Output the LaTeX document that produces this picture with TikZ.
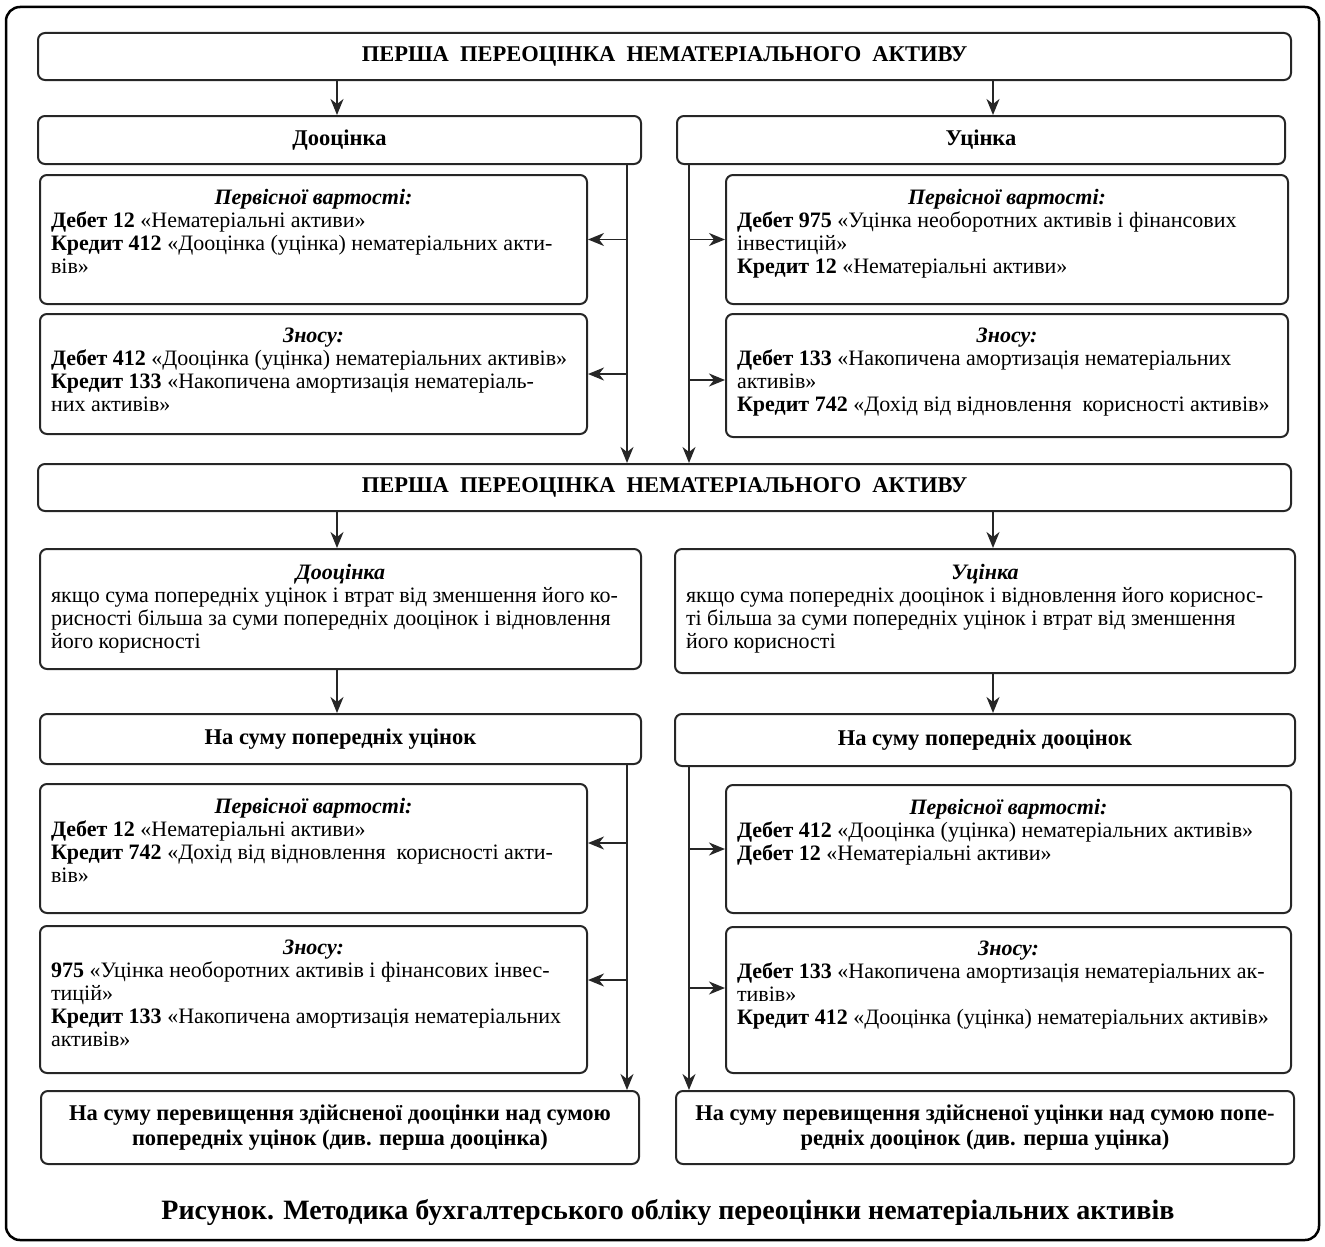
\documentclass[tikz,border=0pt]{standalone}
\usepackage{fontspec}
\setmainfont{Liberation Serif}
\usetikzlibrary{arrows.meta,calc}
\tikzset{
  box/.style={draw=black!85, line width=2pt, rounded corners=7pt, inner xsep=11pt, inner ysep=0pt, anchor=north west},
  arr/.style={draw=black!85, line width=1.7pt, -{Stealth[length=16pt,width=13pt,inset=5pt]}},
}
\newcommand\hdr[1]{\makebox[\linewidth]{\bfseries\itshape #1}\par}
\newcommand\rowline[1]{\mbox{#1}\par}
\newcommand\tbox[7]{%
  \pgfmathsetmacro\bw{#4-#2-22}%
  \pgfmathsetmacro\bh{#5-#3}%
  \node[box] (#1) at (#2,#3) {\parbox[c][\bh pt][t]{\bw pt}{\fontsize{22}{23}\selectfont\parindent=0pt\parskip=0pt\vspace*{#6pt}#7}};
}
\newcommand\cbox[6]{%
  \pgfmathsetmacro\bw{#4-#2}%
  \pgfmathsetmacro\bh{#5-#3}%
  \node[box, minimum width=\bw pt, minimum height=\bh pt, align=center, font=\fontsize{22.5}{25}\selectfont\bfseries] (#1) at (#2,#3) {#6};
}
\begin{document}
\begin{tikzpicture}[x=1pt,y=-1pt]
\useasboundingbox (0,0) rectangle (1325,1247);
\draw[line width=2.5pt, rounded corners=14pt] (6,7) rectangle (1319,1240);

\cbox{top1}{37}{32}{1290}{79}{ПЕРША\ \ ПЕРЕОЦІНКА\ \ НЕМАТЕРІАЛЬНОГО\ \ АКТИВУ}
\cbox{dooc1}{37}{115}{640}{163}{Дооцінка}
\cbox{utsin1}{676}{115}{1284}{163}{Уцінка}

\tbox{L1a}{39}{174}{586}{303}{14}{\hdr{Первісної вартості:}
\rowline{\textbf{Дебет 12} «Нематеріальні активи»}
\rowline{\textbf{Кредит 412} «Дооцінка (уцінка) нематеріальних акти-}
\rowline{вів»}}
\tbox{L1b}{39}{313}{586}{433}{14}{\hdr{Зносу:}
\rowline{\textbf{Дебет 412} «Дооцінка (уцінка) нематеріальних активів»}
\rowline{\textbf{Кредит 133} «Накопичена амортизація нематеріаль-}
\rowline{них активів»}}
\tbox{R1a}{725}{174}{1287}{303}{14}{\hdr{Первісної вартості:}
\rowline{\textbf{Дебет 975} «Уцінка необоротних активів і фінансових}
\rowline{інвестицій»}
\rowline{\textbf{Кредит 12} «Нематеріальні активи»}}
\tbox{R1b}{725}{313}{1287}{436}{14}{\hdr{Зносу:}
\rowline{\textbf{Дебет 133} «Накопичена амортизація нематеріальних}
\rowline{активів»}
\rowline{\textbf{Кредит 742} «Дохід від відновлення\ \ корисності активів»}}

\cbox{top2}{37}{463}{1290}{510}{ПЕРША\ \ ПЕРЕОЦІНКА\ \ НЕМАТЕРІАЛЬНОГО\ \ АКТИВУ}

\tbox{dooc2}{39}{548}{640}{668}{15}{\hdr{Дооцінка}
\rowline{якщо сума попередніх уцінок і втрат від зменшення його ко-}
\rowline{рисності більша за суми попередніх дооцінок і відновлення}
\rowline{його корисності}}
\tbox{utsin2}{674}{548}{1294}{672}{15}{\hdr{Уцінка}
\rowline{якщо сума попередніх дооцінок і відновлення його кориснос-}
\rowline{ті більша за суми попередніх уцінок і втрат від зменшення}
\rowline{його корисності}}

\cbox{naL}{39}{713}{640}{763}{На суму попередніх уцінок}
\cbox{naR}{674}{713}{1294}{765}{На суму попередніх дооцінок}

\tbox{L2a}{39}{783}{586}{912}{14}{\hdr{Первісної вартості:}
\rowline{\textbf{Дебет 12} «Нематеріальні активи»}
\rowline{\textbf{Кредит 742} «Дохід від відновлення\ \ корисності акти-}
\rowline{вів»}}
\tbox{L2b}{39}{925}{586}{1072}{14}{\hdr{Зносу:}
\rowline{\textbf{975} «Уцінка необоротних активів і фінансових інвес-}
\rowline{тицій»}
\rowline{\textbf{Кредит 133} «Накопичена амортизація нематеріальних}
\rowline{активів»}}
\tbox{R2a}{725}{784}{1290}{912}{14}{\hdr{Первісної вартості:}
\rowline{\textbf{Дебет 412} «Дооцінка (уцінка) нематеріальних активів»}
\rowline{\textbf{Дебет 12} «Нематеріальні активи»}}
\tbox{R2b}{725}{926}{1290}{1072}{14}{\hdr{Зносу:}
\rowline{\textbf{Дебет 133} «Накопичена амортизація нематеріальних ак-}
\rowline{тивів»}
\rowline{\textbf{Кредит 412} «Дооцінка (уцінка) нематеріальних активів»}}

\cbox{botL}{40}{1090}{638}{1163}{На суму перевищення здійсненої дооцінки над сумою\\попередніх уцінок (див. перша дооцінка)}
\cbox{botR}{675}{1090}{1293}{1163}{На суму перевищення здійсненої уцінки над сумою попе-\\редніх дооцінок (див. перша уцінка)}

\node[font=\fontsize{28}{31}\selectfont\bfseries] (cap) at (668,1212) {Рисунок. Методика бухгалтерського обліку переоцінки нематеріальних активів};

% connectors
\coordinate (xA) at (337,0);
\coordinate (xB) at (993,0);
\coordinate (xL) at (627,0);
\coordinate (xR) at (689,0);
\coordinate (yR1b) at (0,380);
\coordinate (yL2a) at (0,843);
\coordinate (yL2b) at (0,980);
\coordinate (yR2b) at (0,988);

\draw[arr] (top1.south -| xA) -- (dooc1.north -| xA);
\draw[arr] (top1.south -| xB) -- (utsin1.north -| xB);
\draw[arr] (dooc1.south -| xL) -- (top2.north -| xL);
\draw[arr] (utsin1.south -| xR) -- (top2.north -| xR);
\draw[arr] (xL |- L1a.east) -- (L1a.east);
\draw[arr] (xL |- L1b.east) -- (L1b.east);
\draw[arr] (xR |- R1a.west) -- (R1a.west);
\draw[arr] (xR |- yR1b) -- (R1b.west |- yR1b);

\draw[arr] (top2.south -| xA) -- (dooc2.north -| xA);
\draw[arr] (top2.south -| xB) -- (utsin2.north -| xB);
\draw[arr] (dooc2.south -| xA) -- (naL.north -| xA);
\draw[arr] (utsin2.south -| xB) -- (naR.north -| xB);

\draw[arr] (naL.south -| xL) -- (botL.north -| xL);
\draw[arr] (naR.south -| xR) -- (botR.north -| xR);
\draw[arr] (xL |- yL2a) -- (L2a.east |- yL2a);
\draw[arr] (xL |- yL2b) -- (L2b.east |- yL2b);
\draw[arr] (xR |- R2a.west) -- (R2a.west);
\draw[arr] (xR |- yR2b) -- (R2b.west |- yR2b);
\end{tikzpicture}
\end{document}
